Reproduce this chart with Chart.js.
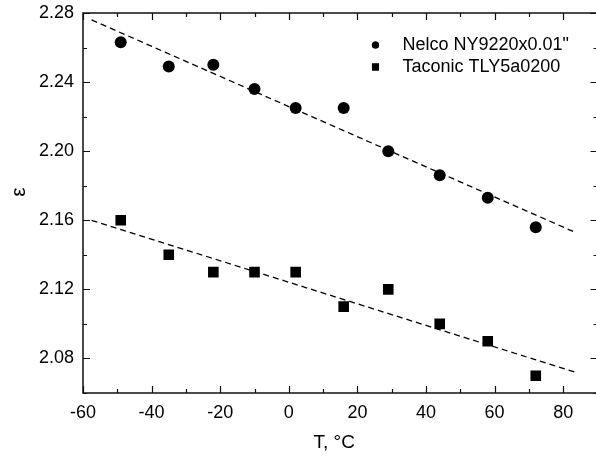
<!DOCTYPE html>
<html>
<head>
<meta charset="utf-8">
<script src="https://cdn.jsdelivr.net/npm/chart.js@4/dist/chart.umd.min.js"></script>
<style>
  html, body { margin: 0; padding: 0; background: #fff; overflow: hidden; }
  /* the plot box runs slightly past the page edge, so its right side is cut off */
  #wrap { width: 596px; height: 459px; overflow: hidden; position: relative; }
  #epsChart { position: absolute; left: 0; top: 0; }
</style>
</head>
<body>
<div id="wrap"><canvas id="epsChart" width="605" height="459"></canvas></div>
<script>
// measurement temperatures, °C
const temps = [-49, -35, -22, -10, 2, 16, 29, 44, 58, 72];
// permittivity of the two laminates
const nelcoEps = [2.263, 2.249, 2.250, 2.236, 2.225, 2.225, 2.200, 2.186, 2.173, 2.156];
const taconicEps = [2.160, 2.140, 2.130, 2.130, 2.130, 2.110, 2.120, 2.100, 2.090, 2.070];
// dashed linear fits, end points
const fitTemps = [-57.5, 83.5];
const nelcoFit = [2.276, 2.153];
const taconicFit = [2.160, 2.072];
// labelled ticks
const xTickLabels = [-60, -40, -20, 0, 20, 40, 60, 80];
const yTickLabels = ['2.08', '2.12', '2.16', '2.20', '2.24', '2.28'];

const seriesNames = ['Nelco NY9220x0.01"', 'Taconic TLY5a0200'];

const toPoints = (xs, ys) => xs.map((x, i) => ({ x: x, y: ys[i] }));

Chart.defaults.font.family = '"Liberation Sans", Arial, sans-serif';
Chart.defaults.color = '#000';

// box around the plot, inward ticks, axis titles and the legend
const framePlugin = {
  id: 'frame',
  afterDraw(chart) {
    const { ctx, chartArea: a, scales } = chart;
    ctx.save();
    ctx.strokeStyle = '#111';
    ctx.lineWidth = 1.5;
    ctx.strokeRect(a.left, a.top, a.right - a.left, a.bottom - a.top);

    ctx.lineWidth = 1.2;
    ctx.beginPath();
    scales.x.ticks.forEach(t => {
      const px = Math.round(scales.x.getPixelForValue(t.value)) + 0.5;
      const len = t.label !== '' ? 7 : 4;
      ctx.moveTo(px, a.bottom); ctx.lineTo(px, a.bottom - len);
      ctx.moveTo(px, a.top); ctx.lineTo(px, a.top + len);
    });
    scales.y.ticks.forEach(t => {
      const py = Math.round(scales.y.getPixelForValue(t.value)) + 0.5;
      const len = t.label !== '' ? 7 : 4;
      ctx.moveTo(a.left, py); ctx.lineTo(a.left + len, py);
      ctx.moveTo(a.right, py); ctx.lineTo(a.right - len, py);
    });
    ctx.stroke();

    // axis titles
    ctx.fillStyle = '#000';
    ctx.font = '19px "Liberation Sans", Arial, sans-serif';
    ctx.textAlign = 'center';
    ctx.textBaseline = 'middle';
    ctx.fillText('T, °C', (a.left + a.right) / 2 - 6, a.bottom + 50);
    ctx.save();
    ctx.translate(a.left - 64, (a.top + a.bottom) / 2 - 11);
    ctx.rotate(-Math.PI / 2);
    ctx.font = '21px "Liberation Sans", Arial, sans-serif';
    ctx.fillText('ε', 0, 0);
    ctx.restore();

    // legend
    ctx.font = '18px "Liberation Sans", Arial, sans-serif';
    ctx.textAlign = 'left';
    const markers = chart.data.datasets.filter(d => d.pointRadius > 0);
    markers.forEach((d, i) => {
      const y = a.top + 32 + i * 22;
      Chart.helpers.drawPoint(ctx, {
        pointStyle: d.pointStyle,
        radius: d.pointStyle === 'rect' ? 5 : 3.6,
        borderWidth: 0
      }, a.right - 222, y);
      ctx.fillStyle = '#000';
      ctx.fill();
      ctx.fillText(d.label, a.right - 195, y);
    });
    ctx.restore();
  }
};

new Chart(document.getElementById('epsChart'), {
  type: 'scatter',
  data: {
    datasets: [
      {
        label: seriesNames[0],
        data: toPoints(temps, nelcoEps),
        pointStyle: 'circle',
        pointRadius: 6,
        backgroundColor: '#000',
        borderWidth: 0
      },
      {
        label: seriesNames[1],
        data: toPoints(temps, taconicEps),
        pointStyle: 'rect',
        pointRadius: 7.5,
        backgroundColor: '#000',
        borderWidth: 0
      },
      {
        label: 'nelco fit',
        data: toPoints(fitTemps, nelcoFit),
        showLine: true,
        pointRadius: 0,
        borderColor: '#000',
        borderWidth: 1.3,
        borderDash: [6, 4]
      },
      {
        label: 'taconic fit',
        data: toPoints(fitTemps, taconicFit),
        showLine: true,
        pointRadius: 0,
        borderColor: '#000',
        borderWidth: 1.3,
        borderDash: [6, 4]
      }
    ]
  },
  options: {
    responsive: false,
    animation: false,
    layout: { padding: { top: 13, right: 3, left: 0, bottom: 0 } },
    plugins: {
      legend: { display: false },
      tooltip: { enabled: false }
    },
    scales: {
      x: {
        type: 'linear',
        min: -60,
        max: 90,
        grid: { display: false, drawTicks: false },
        border: { display: false },
        afterFit: s => {
          s.height = 66;
          s.paddingLeft = 0;
          s.paddingRight = 0;
        },
        ticks: {
          stepSize: 10,
          autoSkip: false,
          maxRotation: 0,
          padding: 9,
          font: { size: 18 },
          callback: v => xTickLabels.includes(Math.round(v)) ? String(Math.round(v)) : ''
        }
      },
      y: {
        type: 'linear',
        min: 2.06,
        max: 2.28,
        grid: { display: false, drawTicks: false },
        border: { display: false },
        afterFit: s => {
          s.width = 83;
          s.paddingTop = 0;
          s.paddingBottom = 0;
        },
        ticks: {
          stepSize: 0.02,
          autoSkip: false,
          padding: 9,
          font: { size: 18 },
          callback: v => yTickLabels.includes(v.toFixed(2)) ? v.toFixed(2) : ''
        }
      }
    }
  },
  plugins: [framePlugin]
});
</script>
</body>
</html>
